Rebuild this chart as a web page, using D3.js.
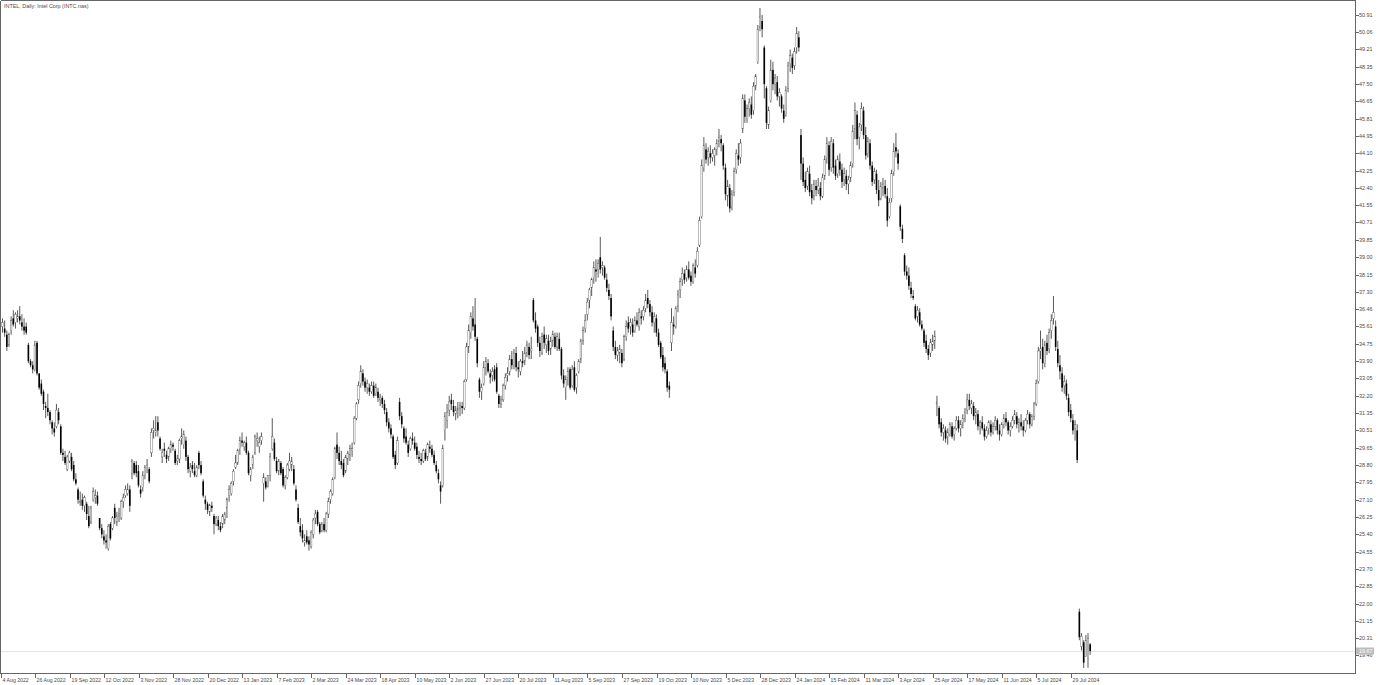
<!DOCTYPE html>
<html><head><meta charset="utf-8">
<script src="https://cdn.jsdelivr.net/npm/d3@7"></script>
<style>html,body{margin:0;padding:0;background:#fff;overflow:hidden}</style>
</head><body>
<svg id="c" width="1378" height="685"></svg>
<script>
// ---------------- DATA ----------------
const title = "INTEL, Daily:  Intel Corp (INTC.nas)";
const xLabels = ["4 Aug 2022","26 Aug 2022","19 Sep 2022","12 Oct 2022","3 Nov 2022","28 Nov 2022","20 Dec 2022","13 Jan 2023","7 Feb 2023","2 Mar 2023","24 Mar 2023","18 Apr 2023","10 May 2023","2 Jun 2023","27 Jun 2023","20 Jul 2023","11 Aug 2023","5 Sep 2023","27 Sep 2023","19 Oct 2023","10 Nov 2023","5 Dec 2023","28 Dec 2023","24 Jan 2024","15 Feb 2024","11 Mar 2024","3 Apr 2024","25 Apr 2024","17 May 2024","11 Jun 2024","5 Jul 2024","29 Jul 2024"];
const barsPerLabel = 16;
const yTickLabels = ["50.91","50.06","49.21","48.35","47.50","46.65","45.81","44.95","44.10","43.25","42.40","41.55","40.71","39.85","39.00","38.15","37.30","36.46","35.61","34.75","33.90","33.05","32.20","31.35","30.51","29.65","28.80","27.95","27.10","26.25","25.40","24.55","23.70","22.85","22.00","21.15","20.31","19.46"];
const lastPrice = 19.67;

const opens = [
35.6,35.5,35.2,34.7,35.4,36.0,35.8,36.0,36.1,35.8,
35.6,35.6,34.7,33.9,33.7,33.5,34.8,33.3,32.8,32.4,
31.7,31.6,31.4,30.9,30.6,30.7,31.4,30.7,29.4,29.2,
28.6,29.0,29.2,28.8,28.1,27.6,27.0,27.1,26.8,26.9,
26.3,26.0,27.1,27.2,27.3,26.2,25.7,25.3,25.1,24.7,
25.9,25.7,26.7,26.0,26.3,26.2,27.0,27.3,27.4,27.6,
28.4,28.9,28.8,28.5,27.6,27.7,28.3,28.8,28.6,29.4,
30.5,30.4,30.9,30.1,29.2,29.6,29.3,29.2,29.6,29.8,
29.5,29.0,29.1,30.1,29.8,30.0,29.2,28.5,28.8,28.5,
28.3,29.4,28.8,28.0,27.1,26.9,26.5,26.8,26.3,25.9,
26.1,25.8,25.9,26.1,26.7,27.3,27.4,28.0,28.7,28.9,
29.6,30.0,29.7,29.9,29.4,28.3,28.8,29.4,30.0,29.7,
30.0,27.9,28.0,27.8,28.3,29.6,29.9,29.0,28.5,28.9,
28.6,27.8,28.2,28.6,28.8,28.6,27.6,26.7,25.8,25.6,
25.0,25.3,25.1,24.8,25.4,26.2,26.5,25.9,25.6,25.9,
25.6,26.4,27.1,27.4,28.2,29.8,29.4,29.0,28.9,28.5,
29.1,29.3,29.5,29.9,31.1,32.0,32.8,33.3,32.9,32.6,
32.6,32.4,32.7,32.3,32.4,32.0,32.1,31.8,31.4,30.9,
30.6,30.2,29.3,28.9,31.9,31.2,30.6,30.2,29.8,29.6,
30.1,29.9,29.7,29.2,29.1,29.0,29.4,29.2,29.7,29.6,
29.3,28.8,28.4,27.8,27.8,30.5,31.0,31.5,32.0,31.7,
31.3,31.5,31.6,31.7,31.6,33.0,34.6,35.3,36.0,35.7,
35.0,33.0,32.4,32.8,33.6,33.8,33.3,33.2,33.5,33.6,
32.2,31.8,32.0,32.7,33.2,33.4,34.0,33.7,34.3,33.6,
33.4,33.9,33.9,34.3,34.6,34.4,36.9,35.9,35.6,34.8,
34.3,35.2,34.7,34.9,34.5,34.9,35.1,34.6,35.0,34.5,
33.2,32.6,33.1,33.5,32.7,33.6,32.6,33.4,34.0,34.9,
35.5,36.2,36.9,37.5,38.0,38.4,38.4,39.0,38.5,38.5,
37.9,37.4,37.0,35.4,34.6,34.2,34.3,34.3,34.0,35.1,
35.8,35.6,35.7,35.4,35.9,35.6,36.1,36.1,36.5,37.0,
36.7,36.3,35.8,36.0,35.3,34.8,34.2,33.8,33.4,32.7,
34.8,35.7,35.6,36.6,37.4,37.9,38.2,38.0,38.4,38.1,
37.8,38.5,38.6,39.6,41.0,43.4,44.3,43.9,44.1,43.9,
44.0,44.3,44.7,44.8,44.5,43.4,42.0,42.4,41.5,42.2,
43.3,44.0,43.9,45.3,46.7,45.8,46.3,46.5,46.2,47.4,
48.6,50.3,50.6,49.3,47.3,45.5,46.7,48.2,47.5,47.6,
46.9,46.9,46.2,46.0,47.3,48.5,48.8,48.4,49.3,49.8,
45.0,43.6,42.8,42.5,43.1,42.3,42.0,42.5,42.3,42.4,
42.0,43.0,43.9,44.5,43.4,44.6,43.5,43.1,43.7,43.3,
42.8,43.0,42.6,42.9,43.6,45.3,46.0,44.9,45.5,46.2,
45.0,44.1,44.6,43.5,42.8,43.1,42.3,41.9,42.4,42.5,
42.0,41.0,41.9,43.2,44.4,44.1,41.5,40.4,39.1,38.3,
38.1,37.5,37.1,36.6,36.1,36.3,35.7,35.4,34.9,34.5,
34.3,34.7,34.9,31.8,31.6,30.9,30.4,30.5,30.2,30.3,
30.7,30.3,30.6,31.0,30.6,30.9,31.1,31.5,32.0,31.6,
31.7,31.2,31.3,30.7,30.9,30.6,30.2,30.6,30.8,30.4,
30.7,31.0,30.5,30.3,30.8,31.1,30.9,30.5,30.7,31.0,
31.2,30.8,30.9,30.7,30.5,31.0,31.3,30.8,31.2,31.8,
32.9,34.4,34.6,33.8,34.8,34.5,35.4,36.0,35.6,34.5,
33.7,33.3,32.7,32.8,32.1,31.5,31.0,30.6,30.5,21.6,
19.9,20.1,19.4,19.3,20.0];

const highs = [
36.0,35.9,35.4,35.3,36.1,36.4,36.3,36.4,36.6,36.2,
36.0,35.8,34.8,34.0,33.9,34.9,34.9,33.3,33.0,32.5,
31.9,32.3,31.5,31.0,30.9,31.8,31.6,30.8,29.6,29.5,
29.3,29.5,29.4,29.0,28.4,27.7,27.5,27.4,27.3,27.0,
26.8,26.8,27.7,27.6,27.5,26.2,25.9,25.6,25.4,25.9,
26.0,26.3,26.9,26.5,26.7,27.1,27.4,27.8,27.9,27.8,
29.1,29.0,29.0,28.8,27.8,28.5,28.8,29.1,28.7,30.6,
31.0,31.2,31.2,30.2,29.6,29.9,29.5,29.7,30.0,29.9,
29.6,29.3,30.1,30.6,30.5,30.2,29.3,28.9,29.0,28.9,
28.8,29.5,29.0,28.1,27.3,27.0,26.9,27.0,26.4,26.3,
26.3,26.0,26.4,26.5,27.2,27.8,28.0,28.6,29.3,29.6,
30.2,30.4,30.0,30.2,29.5,28.7,29.3,30.3,30.4,30.2,
30.4,28.4,28.2,28.3,29.4,31.1,30.1,29.2,29.1,29.0,
28.7,28.3,28.9,29.4,29.2,28.8,27.8,26.9,26.2,25.9,
25.4,25.6,25.3,25.6,26.2,26.6,26.6,26.0,26.0,26.2,
26.5,27.2,27.6,28.2,29.7,30.4,29.7,29.5,29.1,29.3,
29.5,29.8,29.9,31.2,31.9,32.9,33.7,33.5,33.1,33.0,
32.8,32.9,32.9,32.8,32.6,32.3,32.2,32.0,31.6,31.1,
30.8,30.3,29.5,30.2,32.1,31.4,30.7,30.6,30.0,30.2,
30.4,30.2,29.9,29.5,29.4,29.6,29.6,29.9,30.0,29.8,
29.5,29.0,28.6,28.0,29.8,31.4,31.8,32.2,32.3,32.0,
31.7,31.9,31.9,31.9,33.0,34.8,35.7,36.3,36.6,37.0,
35.1,33.1,32.8,33.9,34.1,34.0,33.5,33.6,33.7,33.8,
32.3,32.2,32.8,33.3,33.6,34.2,34.4,34.5,34.6,33.9,
34.0,34.4,34.6,34.9,34.8,35.1,37.0,36.3,35.7,35.1,
35.3,35.6,35.2,35.2,35.1,35.4,35.3,35.3,35.3,34.6,
33.5,33.2,33.6,33.6,33.7,33.9,33.3,34.0,35.0,35.6,
36.2,37.0,37.5,38.0,38.8,38.9,38.9,40.0,38.8,38.6,
38.2,37.7,37.2,35.6,34.9,34.6,34.7,34.5,35.2,35.9,
36.1,36.0,36.0,36.1,36.3,36.5,36.4,36.6,37.2,37.4,
36.9,36.6,36.3,36.2,35.5,34.9,34.6,34.1,33.5,32.9,
36.5,36.1,36.6,37.4,38.0,38.5,38.4,38.6,38.8,38.3,
38.7,38.9,39.5,41.0,43.8,44.9,44.6,44.4,44.5,44.3,
44.4,44.8,45.3,45.0,44.6,43.6,42.8,42.6,42.3,43.4,
44.3,44.6,44.8,47.0,47.0,46.5,46.8,46.9,47.6,48.0,
50.4,51.24,50.9,49.4,47.4,46.4,48.7,48.6,48.0,47.9,
47.3,47.0,46.5,47.4,48.6,49.2,49.0,49.3,50.3,50.1,
45.3,43.9,43.2,43.4,43.5,42.6,42.8,42.8,42.9,42.7,
43.1,44.0,44.9,44.7,44.9,44.8,43.8,44.0,44.1,43.6,
43.4,43.3,43.0,43.7,45.5,46.6,46.2,45.6,46.6,46.4,
45.4,44.9,44.8,43.7,43.4,43.3,42.8,42.7,42.9,42.8,
42.4,41.9,43.3,44.6,45.1,44.3,41.6,40.6,39.2,38.6,
38.5,37.8,37.4,36.7,36.6,36.5,35.9,35.5,35.2,34.7,
35.0,35.2,35.4,32.2,31.7,31.1,30.8,30.7,30.6,30.9,
30.9,30.7,31.2,31.2,31.0,31.3,31.6,32.3,32.3,32.0,
31.9,31.6,31.5,31.0,31.2,30.8,30.7,31.0,31.0,30.9,
31.2,31.1,30.8,30.9,31.3,31.4,31.0,30.9,31.2,31.5,
31.4,31.1,31.3,31.0,31.1,31.5,31.4,31.3,31.9,33.0,
34.6,35.4,35.0,34.9,35.2,35.5,36.2,37.1,35.9,34.9,
34.2,33.6,33.2,33.0,32.3,31.8,31.3,31.0,30.8,21.75,
20.55,20.2,20.45,20.55,20.06];

const lows = [
35.3,35.1,34.4,34.6,35.2,35.6,35.5,35.8,35.7,35.4,
35.2,35.2,33.8,33.6,33.3,33.4,33.2,32.5,32.2,31.5,
31.1,31.2,30.8,30.3,30.2,30.6,30.8,29.3,29.0,28.8,
28.5,28.9,28.5,28.0,27.8,26.9,26.8,26.6,26.5,26.1,
25.7,25.9,27.0,26.9,26.8,25.6,25.2,24.9,24.7,24.6,
25.1,25.6,25.9,25.8,26.0,26.1,26.7,27.2,27.3,26.5,
28.1,28.3,28.2,27.7,27.2,27.5,28.1,28.4,27.9,29.2,
30.1,30.2,30.2,29.5,28.9,29.2,28.9,29.0,29.4,29.5,
28.8,28.8,28.9,29.8,29.6,29.0,28.4,28.2,28.4,28.2,
28.2,28.6,28.3,27.2,26.6,26.4,26.3,26.5,25.4,25.8,
25.6,25.5,25.7,25.9,26.2,27.0,27.3,27.8,28.6,28.8,
29.3,29.7,29.5,29.3,28.3,28.0,28.6,29.3,29.7,29.4,
29.8,27.0,27.6,27.7,28.0,29.5,29.0,28.4,28.3,28.3,
27.7,27.6,28.1,28.5,28.5,27.8,27.0,25.9,25.3,25.0,
24.8,24.9,24.6,24.7,25.2,25.9,25.8,25.4,25.5,25.5,
25.5,26.2,26.9,27.3,28.1,29.1,28.8,28.6,28.2,28.4,
28.8,29.0,29.2,29.8,31.0,31.8,32.6,32.7,32.4,32.3,
32.2,32.3,32.1,32.2,31.9,31.7,31.6,31.3,30.7,30.4,
30.1,29.1,28.6,28.8,31.0,30.6,29.9,29.8,29.2,29.5,
29.8,29.5,29.1,28.9,28.8,28.9,29.0,29.0,29.4,29.2,
28.8,28.4,27.9,26.9,27.7,30.0,30.6,31.2,31.5,31.2,
31.0,31.1,31.2,31.3,31.5,32.9,34.3,35.0,35.4,34.9,
33.6,32.1,32.0,32.7,33.2,33.3,32.8,32.9,32.9,32.3,
31.6,31.6,31.9,32.5,32.9,33.2,33.5,33.5,33.4,33.1,
33.2,33.6,33.7,34.1,34.0,34.0,35.8,35.3,34.6,34.1,
34.2,34.5,34.3,34.2,34.2,34.6,34.5,34.4,34.4,33.0,
32.6,32.0,32.7,32.5,32.6,32.4,32.3,33.3,33.8,34.7,
35.3,35.9,36.5,37.1,37.7,37.8,38.0,38.2,38.1,37.9,
37.3,36.9,35.9,34.4,34.0,33.9,33.8,33.6,33.9,34.9,
35.3,35.2,35.1,35.3,35.6,35.4,35.7,35.9,36.3,36.5,
36.1,35.6,35.3,35.1,34.6,34.0,33.4,33.3,32.4,32.1,
34.4,35.2,35.5,36.3,37.0,37.6,37.7,37.8,37.9,37.6,
37.7,38.0,38.5,39.5,40.9,43.2,43.6,43.5,43.6,43.7,
43.5,44.0,44.4,44.2,43.3,41.8,41.5,41.2,41.3,42.0,
43.1,43.5,43.6,45.1,45.6,45.6,45.9,45.8,46.0,47.2,
48.5,50.1,49.8,46.8,45.3,45.3,46.6,47.2,47.0,46.7,
46.4,46.1,45.6,45.9,47.1,48.1,48.0,48.2,49.0,49.1,
42.8,42.5,42.2,42.3,42.0,41.6,41.8,42.0,42.1,41.8,
41.9,42.8,43.6,43.0,43.2,43.1,42.8,42.9,43.0,42.4,
42.5,42.3,42.1,42.7,43.4,44.8,44.5,44.3,45.2,44.8,
43.8,43.9,43.3,42.5,42.6,42.1,41.5,41.8,42.0,41.9,
40.5,40.9,41.7,43.0,43.9,43.3,40.3,39.7,38.1,37.9,
37.4,37.0,36.9,35.9,35.8,35.6,35.4,34.6,34.3,33.96,
34.1,34.4,34.5,31.2,30.6,30.2,30.0,29.9,29.8,30.2,
30.1,30.0,30.5,30.4,30.2,30.6,30.9,31.3,31.5,31.3,
31.0,30.8,30.5,30.3,30.5,30.0,30.1,30.3,30.2,30.3,
30.5,30.3,30.0,30.2,30.6,30.7,30.3,30.2,30.6,30.8,
30.6,30.4,30.5,30.2,30.4,30.8,30.6,30.7,31.0,31.7,
32.8,34.0,33.5,33.6,34.2,34.3,35.0,35.7,34.4,33.6,
33.0,32.4,32.3,32.0,31.2,30.9,30.3,30.0,28.9,20.2,
19.7,18.84,19.38,18.85,19.48];

const closes = [
35.8,35.3,34.6,35.2,35.9,35.7,36.2,36.1,35.9,35.6,
35.4,35.3,33.9,33.7,33.5,34.7,33.3,32.6,32.3,31.8,
31.6,31.4,31.0,30.6,30.4,31.5,31.0,29.4,29.3,28.9,
29.2,29.4,28.6,28.1,27.9,27.1,27.0,26.8,27.2,26.4,
25.8,26.7,27.5,27.3,26.9,25.7,25.4,25.1,25.0,25.8,
25.2,26.2,26.2,26.3,26.4,27.0,27.2,27.6,27.6,26.8,
29.0,28.4,28.4,27.8,27.4,28.3,28.7,28.8,28.0,30.4,
30.6,30.5,30.5,29.6,29.4,29.5,29.1,29.6,29.8,29.7,
28.9,29.1,30.0,30.2,30.3,29.2,28.6,28.7,28.6,28.3,
28.7,28.8,28.4,27.3,26.9,26.6,26.8,26.7,25.9,26.2,
25.8,25.6,26.3,26.4,27.1,27.6,27.9,28.5,28.9,29.5,
30.0,29.9,29.9,29.4,28.4,28.6,29.2,30.2,30.1,29.9,
30.2,28.2,27.7,28.3,29.2,30.2,29.1,28.5,29.0,28.4,
27.8,28.2,28.8,29.0,29.0,27.9,27.1,26.0,25.5,25.2,
25.1,25.0,24.9,25.5,26.1,26.4,25.9,25.5,25.9,25.6,
26.4,27.0,27.5,28.1,29.6,29.4,29.0,28.8,28.3,29.2,
29.4,29.6,29.6,31.1,31.8,32.7,33.4,32.9,32.6,32.8,
32.4,32.7,32.2,32.6,32.1,32.1,31.8,31.5,30.9,30.6,
30.3,29.2,28.8,30.0,31.2,30.8,30.1,29.9,29.4,30.1,
30.0,29.6,29.3,29.1,29.0,29.5,29.1,29.8,29.6,29.3,
28.9,28.5,28.1,27.5,29.6,31.2,31.4,31.9,31.8,31.4,
31.5,31.6,31.7,31.6,32.9,34.6,35.4,36.1,35.6,35.1,
33.8,32.4,32.6,33.6,33.9,33.4,33.1,33.4,33.0,32.4,
31.8,32.0,32.7,33.1,33.3,34.0,33.7,34.3,33.6,33.5,
33.9,33.8,34.3,34.7,34.2,34.5,35.9,35.5,34.8,34.4,
35.1,34.8,35.0,34.4,34.9,35.2,34.6,35.1,34.5,33.2,
32.8,33.0,33.4,32.6,33.5,32.5,33.2,33.9,34.9,35.4,
35.9,36.8,37.4,37.9,38.5,38.3,38.7,38.4,38.6,38.0,
37.5,37.1,36.1,34.6,34.2,34.4,34.5,33.8,35.1,35.6,
35.5,35.8,35.3,35.9,35.7,36.3,36.0,36.4,36.9,36.7,
36.3,35.8,36.1,35.3,34.7,34.1,33.6,33.5,32.6,32.5,
35.8,35.6,36.5,37.2,37.8,38.2,37.9,38.4,38.0,37.8,
38.6,38.2,39.3,40.8,43.5,44.5,43.8,44.2,43.9,44.1,
44.3,44.6,44.9,44.6,43.5,42.1,42.5,41.4,42.1,43.2,
44.1,43.8,44.6,46.8,45.9,46.3,46.6,46.0,47.4,47.9,
50.2,50.8,50.2,47.5,45.6,46.2,48.2,47.5,47.8,46.9,
47.1,46.3,45.8,47.2,48.4,48.9,48.3,49.1,50.0,49.3,
43.6,42.7,42.4,43.2,42.2,41.9,42.6,42.3,42.5,42.0,
42.9,43.8,44.6,43.3,44.7,43.4,43.0,43.8,43.3,42.7,
43.1,42.6,42.8,43.5,45.2,46.2,44.8,45.4,46.3,45.0,
44.0,44.7,43.5,42.7,43.2,42.3,41.8,42.5,42.6,42.1,
40.8,41.7,43.1,44.2,44.2,43.6,40.5,39.9,38.3,38.1,
37.6,37.2,37.0,36.0,36.4,35.7,35.5,34.8,34.5,34.2,
34.8,34.9,35.1,31.9,30.8,30.4,30.6,30.1,30.4,30.8,
30.2,30.6,31.0,30.6,30.8,31.1,31.4,32.0,31.7,31.8,
31.2,31.4,30.7,30.9,30.6,30.2,30.5,30.9,30.4,30.7,
31.0,30.5,30.3,30.8,31.1,30.9,30.5,30.7,31.0,31.3,
30.8,30.9,30.7,30.5,31.0,31.3,30.8,31.2,31.8,32.8,
34.4,34.5,33.8,34.7,34.4,35.3,35.9,36.3,34.6,33.8,
33.4,32.6,32.9,32.2,31.4,31.1,30.5,30.8,29.05,20.35,
20.4,19.1,20.2,20.3,19.67];

// ---------------- CHART ----------------
const svg = d3.select("#c");
const FONT = "'Liberation Sans', Arial, sans-serif";
const TXT = "#4a4a4a";
const frame = {left: 0.5, top: 0.5, right: 1355.5, bottom: 673.5};

const x = d3.scaleLinear().domain([0, xLabels.length - 1].map(k => k * barsPerLabel)).range([2.5, 1072.9]);
const y = d3.scaleLinear().domain([+yTickLabels[yTickLabels.length - 1], +yTickLabels[0]]).range([655.3, 14.7]);

const bars = opens.map((o, i) => ({
  i, o, c: closes[i],
  h: Math.max(highs[i], o, closes[i]),
  l: Math.min(lows[i], o, closes[i])
}));

// last price dotted line
svg.append("line")
  .attr("x1", frame.left).attr("x2", frame.right)
  .attr("y1", Math.round(y(lastPrice)) + 0.5).attr("y2", Math.round(y(lastPrice)) + 0.5)
  .attr("stroke", "#c8c8c8").attr("stroke-width", 1).attr("stroke-dasharray", "1,1");

// candles
const g = svg.append("g");
const bw = 1.6;
g.selectAll("line.wick").data(bars).enter().append("line")
  .attr("class", "wick")
  .attr("x1", d => x(d.i)).attr("x2", d => x(d.i))
  .attr("y1", d => y(d.h)).attr("y2", d => y(d.l))
  .attr("stroke", "#111").attr("stroke-width", 0.7);
g.selectAll("rect.body").data(bars).enter().append("rect")
  .attr("class", "body")
  .attr("x", d => x(d.i) - bw / 2).attr("width", bw)
  .attr("y", d => y(Math.max(d.o, d.c)))
  .attr("height", d => Math.max(0.6, Math.abs(y(d.o) - y(d.c))))
  .attr("fill", d => d.c < d.o ? "#000" : "#fff")
  .attr("stroke", d => d.c < d.o ? "none" : "#555")
  .attr("stroke-width", 0.4);

// frame
const fr = svg.append("g").attr("stroke", "#666").attr("stroke-width", 1).attr("shape-rendering", "crispEdges");
fr.append("line").attr("x1", frame.left).attr("x2", frame.right).attr("y1", frame.top).attr("y2", frame.top);
fr.append("line").attr("x1", frame.left).attr("x2", frame.right).attr("y1", frame.bottom).attr("y2", frame.bottom);
fr.append("line").attr("x1", frame.left).attr("x2", frame.left).attr("y1", frame.top).attr("y2", frame.bottom);
fr.append("line").attr("x1", frame.right).attr("x2", frame.right).attr("y1", frame.top).attr("y2", frame.bottom);

// right price axis
const ya = svg.append("g");
yTickLabels.forEach(t => {
  const yy = y(+t);
  ya.append("line").attr("x1", frame.right).attr("x2", frame.right + 3)
    .attr("y1", Math.round(yy) + 0.5).attr("y2", Math.round(yy) + 0.5)
    .attr("stroke", "#666").attr("shape-rendering", "crispEdges");
  ya.append("text").attr("x", 1359).attr("y", yy + 2)
    .attr("font-family", FONT).attr("font-size", 5.4).attr("fill", TXT).text(t);
});
// last price box
const ly = y(lastPrice);
ya.append("rect").attr("x", 1356).attr("y", ly - 3.5).attr("width", 18).attr("height", 7).attr("fill", "#bcbcbc");
ya.append("text").attr("x", 1359).attr("y", ly + 2)
  .attr("font-family", FONT).attr("font-size", 5.4).attr("fill", "#fff").text(lastPrice.toFixed(2));

// bottom time axis
const xa = svg.append("g");
xLabels.forEach((t, k) => {
  const xx = Math.round(x(k * barsPerLabel) - 2) + 0.5;
  xa.append("line").attr("x1", xx).attr("x2", xx).attr("y1", frame.bottom).attr("y2", frame.bottom + 4)
    .attr("stroke", "#666").attr("shape-rendering", "crispEdges");
  xa.append("text").attr("x", xx + 1).attr("y", 681.5)
    .attr("font-family", FONT).attr("font-size", 5.2).attr("fill", TXT).text(t);
});

// title
svg.append("text").attr("x", 4).attr("y", 7.5)
  .attr("font-family", FONT).attr("font-size", 5.4).attr("fill", TXT).text(title);
</script>
</body></html>
